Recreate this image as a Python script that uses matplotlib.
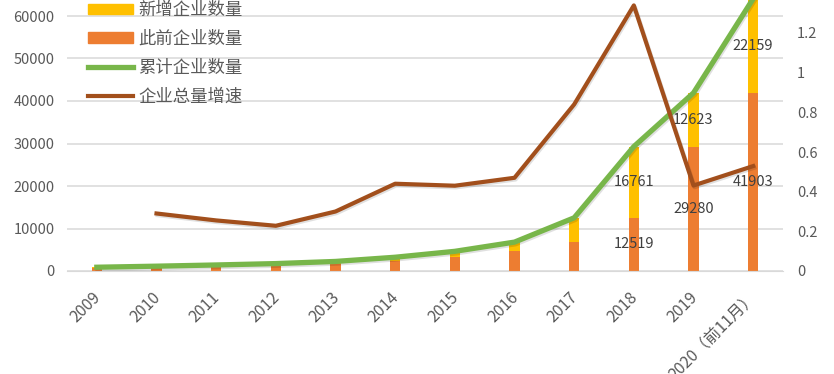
import matplotlib
matplotlib.use("Agg")
import matplotlib.pyplot as plt
import matplotlib.patheffects as pe
from matplotlib.patches import Patch
from matplotlib.lines import Line2D
import numpy as np

plt.rcParams["font.family"] = ["Noto Sans CJK SC", "DejaVu Sans"]
plt.rcParams["axes.unicode_minus"] = False

years = ["2009", "2010", "2011", "2012", "2013", "2014", "2015", "2016",
         "2017", "2018", "2019", "2020（前11月）"]
prev_count = [760, 887, 1136, 1420, 1745, 2250, 3240, 4630, 6800, 12519, 29280, 41903]
new_count = [127, 249, 284, 325, 505, 990, 1390, 2170, 5719, 16761, 12623, 22159]
total_count = [887, 1136, 1420, 1745, 2250, 3240, 4630, 6800, 12519, 29280, 41903, 64062]
growth = [None, 0.29, 0.255, 0.228, 0.30, 0.44, 0.43, 0.47, 0.84, 1.339, 0.431, 0.529]
labelled = [9, 10, 11]

c_prev = "#ED7D31"
c_new = "#FFC000"
c_total = "#78B64A"
c_growth = "#A24F1C"
grey = "#595959"

fig = plt.figure(figsize=(8.34, 3.74), dpi=100)
ax = fig.add_axes([67 / 834, 103 / 374, 716 / 834, 297.5 / 374])
ax2 = ax.twinx()

x = np.arange(len(years))
w = 0.17
ax.bar(x, prev_count, w, color=c_prev, zorder=2)
ax.bar(x, new_count, w, bottom=prev_count, color=c_new, zorder=2)
shadow = [pe.SimpleLineShadow(offset=(0.8, -1.2), alpha=0.12), pe.Normal()]
ax.plot(x, total_count, color=c_total, lw=3.8, solid_joinstyle="round",
        zorder=3, path_effects=shadow)

gx = [i for i, g in enumerate(growth) if g is not None]
gy = [g for g in growth if g is not None]
ax2.plot(gx, gy, color=c_growth, lw=3.0, solid_joinstyle="round", path_effects=shadow)

for i in labelled:
    ax.text(x[i], prev_count[i] / 2, f"{prev_count[i]}", ha="center", va="center",
            fontsize=10.5, color="#404040", zorder=5)
    ax.text(x[i], prev_count[i] + new_count[i] / 2, f"{new_count[i]}", ha="center",
            va="center", fontsize=10.5, color="#404040", zorder=5)

ax.set_xlim(-0.5, len(years) - 0.5)
ax.set_ylim(0, 70000)
ax.set_yticks(np.arange(0, 60001, 10000))
ax2.set_ylim(0, 1.5)
ax2.set_yticks([0, 0.2, 0.4, 0.6, 0.8, 1.0, 1.2])
ax2.set_yticklabels(["0", "0.2", "0.4", "0.6", "0.8", "1", "1.2"])

ax.set_xticks(x - 0.08)
ax.set_xticklabels(years, rotation=45, ha="right", rotation_mode="anchor")
ax.grid(axis="y", color="#D9D9D9", lw=1.1, zorder=0)
ax.set_axisbelow(True)
for a in (ax, ax2):
    for s in a.spines.values():
        s.set_visible(False)
    a.tick_params(length=0, labelsize=10.5, labelcolor=grey)
ax.spines["bottom"].set_visible(True)
ax.spines["bottom"].set_color("#D9D9D9")
ax.tick_params(axis="y", pad=9)
ax.tick_params(axis="x", pad=13, labelsize=11.5)
ax2.tick_params(axis="y", pad=10)

handles = [Patch(color=c_new), Patch(color=c_prev),
           Line2D([], [], color=c_total, lw=3.8), Line2D([], [], color=c_growth, lw=3.0)]
labels = ["新增企业数量", "此前企业数量", "累计企业数量", "企业总量增速"]
fig.legend(handles, labels, loc="upper left", bbox_to_anchor=(88 / 834, 373 / 374),
           frameon=False, fontsize=12.5, labelcolor=grey, handlelength=2.6,
           handleheight=0.55, handletextpad=0.3, labelspacing=0.62,
           borderpad=0, borderaxespad=0)

fig.savefig("out.png", dpi=100)
